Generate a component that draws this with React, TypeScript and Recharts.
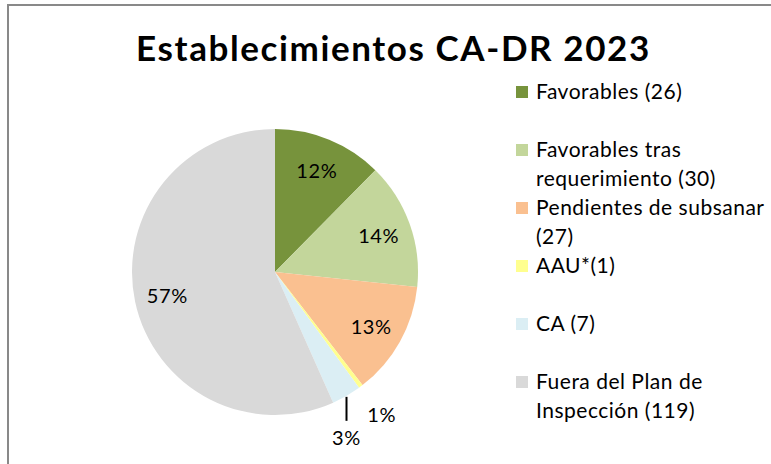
import { PieChart, Pie, Cell, Legend } from "recharts"

const categories = [
  "Favorables (26)",
  "Favorables tras requerimiento (30)",
  "Pendientes de subsanar (27)",
  "AAU*(1)",
  "CA (7)",
  "Fuera del Plan de Inspección (119)",
]

// legend lines as wrapped in the picture
const legendLines = [
  ["Favorables (26)"],
  ["Favorables tras", "requerimiento (30)"],
  ["Pendientes de subsanar", "(27)"],
  ["AAU*(1)"],
  ["CA (7)"],
  ["Fuera del Plan de", "Inspección (119)"],
]

const values = [26, 30, 27, 1, 7, 119]
const pctLabels = ["12%", "14%", "13%", "1%", "3%", "57%"]
const colors = ["#77933C", "#C3D69B", "#FAC090", "#FFFF8F", "#DBEEF4", "#D9D9D9"]

const data = categories.map((name, i) => ({ name, value: values[i] }))

const FONT = "Lato, 'Open Sans', sans-serif"
const RAD = Math.PI / 180

function renderLabel(props: any) {
  const { cx, cy, midAngle, outerRadius, percent, index } = props
  const cos = Math.cos(-midAngle * RAD)
  const sin = Math.sin(-midAngle * RAD)
  const txt = pctLabels[index]
  const style = { letterSpacing: 0.6 }
  if (percent >= 0.05) {
    const r = outerRadius * 0.77
    return (
      <text x={cx + r * cos} y={cy + r * sin} textAnchor="middle" dominantBaseline="central"
        fontFamily={FONT} fontSize={20} fill="#000" style={style}>{txt}</text>
    )
  }
  if (percent < 0.01) {
    const r = outerRadius + 35
    return (
      <text x={cx + r * cos} y={cy + r * sin} textAnchor="middle" dominantBaseline="central"
        fontFamily={FONT} fontSize={20} fill="#000" style={style}>{txt}</text>
    )
  }
  // small slice: vertical leader line down from the edge
  const x0 = cx + outerRadius * cos
  const y0 = cy + outerRadius * sin
  return (
    <g>
      <line x1={x0} y1={y0 + 1} x2={x0} y2={y0 + 25} stroke="#000" strokeWidth={2} />
      <text x={x0} y={y0 + 41} textAnchor="middle" dominantBaseline="central"
        fontFamily={FONT} fontSize={20} fill="#000" style={style}>{txt}</text>
    </g>
  )
}

function renderLegend() {
  return (
    <div style={{ fontFamily: FONT, fontSize: 21, letterSpacing: 0.5, color: "#000" }}>
      {legendLines.map((lines, i) => (
        <div key={i} style={{ position: "absolute", top: i * 58, left: 0, width: 255 }}>
          <div style={{ position: "absolute", left: 0, top: 10, width: 12, height: 12, background: colors[i] }} />
          {lines.map((l, j) => (
            <div key={j} style={{ position: "absolute", left: 20, top: j * 29, lineHeight: "29px", whiteSpace: "nowrap" }}>{l}</div>
          ))}
        </div>
      ))}
    </div>
  )
}

export default function App() {
  return (
    <div style={{ position: "absolute", left: 0, top: 0, width: 771, height: 464, background: "#fff", overflow: "hidden" }}>
      <div style={{ position: "absolute", left: 7, top: 4, width: 800, height: 500, border: "2px solid #898989", boxSizing: "border-box" }} />
      <div style={{ position: "absolute", left: 0, top: 25, width: 787, textAlign: "center", fontFamily: FONT, fontWeight: 700, fontSize: 35, letterSpacing: 1.6, color: "#000", lineHeight: "44px" }}>
        Establecimientos CA-DR 2023
      </div>
      <PieChart width={771} height={464} margin={{ top: 0, right: 0, bottom: 0, left: 0 }} style={{ position: "absolute", left: 0, top: 0 }}>
        <Pie
          data={data}
          dataKey="value"
          nameKey="name"
          cx={275}
          cy={272}
          outerRadius={143}
          startAngle={90}
          endAngle={-270}
          stroke="none"
          label={renderLabel}
          labelLine={false}
          isAnimationActive={false}
        >
          {data.map((d, i) => (
            <Cell key={d.name} fill={colors[i]} />
          ))}
        </Pie>
        <Legend
          content={renderLegend}
          layout="vertical"
          align="right"
          verticalAlign="top"
          wrapperStyle={{ position: "absolute", left: 516, top: 76, width: 255, height: 360 }}
        />
      </PieChart>
    </div>
  )
}
